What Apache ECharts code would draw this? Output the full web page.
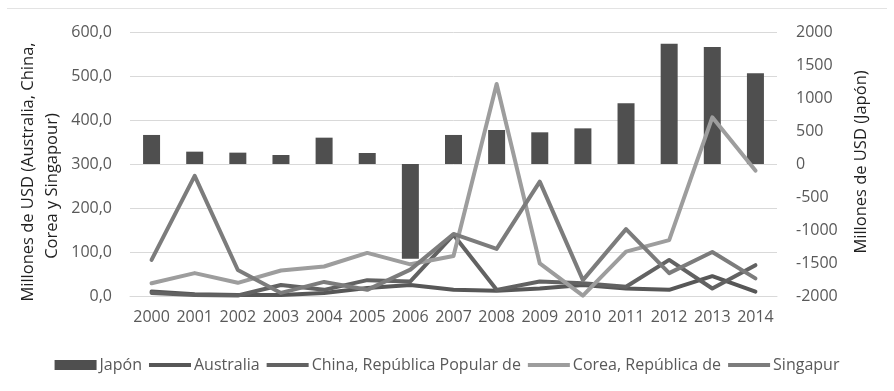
<!DOCTYPE html>
<html>
<head>
<meta charset="utf-8">
<script src="https://cdn.jsdelivr.net/npm/echarts@6/dist/echarts.min.js"></script>
<style>
  html, body { margin: 0; padding: 0; background: #ffffff; }
  #chart { width: 894px; height: 391px; }
</style>
</head>
<body>
<div id="chart"></div>
<script>
// Inversión extranjera directa por país de origen, 2000-2014
const years = ['2000','2001','2002','2003','2004','2005','2006','2007','2008','2009','2010','2011','2012','2013','2014'];

// Millones de USD (eje derecho)
const japon = [440, 187, 172, 136, 399, 167, -1435, 440, 515, 480, 540, 920, 1823, 1773, 1374];

// Millones de USD (eje izquierdo)
const australia = [10, 4, 2, 2, 7, 18, 25, 14, 12, 17, 25, 17, 14, 45, 10];
const china = [7, 2, 1, 25, 14, 36, 33, 139, 14, 33, 29, 21, 82, 17, 70];
const corea = [29, 52, 30, 58, 67, 98, 72, 91, 482, 74, 1, 101, 127, 406, 285];
const singapur = [82, 273, 59, 7, 32, 14, 60, 141, 107, 260, 36, 152, 52, 100, 40];

const leftTicks = { min: 0, max: 600, interval: 100 };
const rightTicks = { min: -2000, max: 2000, interval: 500 };

const FONT = '"Open Sans", sans-serif';
const LABEL = '#595959';
const LINE_ICON = 'path://M0,0H42V4H0Z';

const chart = echarts.init(document.getElementById('chart'), null, { renderer: 'canvas' });

function lineSeries(name, data, color) {
  return {
    name: name,
    type: 'line',
    yAxisIndex: 0,
    data: data,
    symbol: 'none',
    lineStyle: { color: color, width: 4, cap: 'round', join: 'round' },
    itemStyle: { color: color },
    z: 3
  };
}

chart.setOption({
  animation: false,
  backgroundColor: '#ffffff',
  grid: { left: 130, right: 117, top: 32, bottom: 95 },
  xAxis: {
    type: 'category',
    data: years,
    axisLine: { show: true, lineStyle: { color: '#d9d9d9', width: 1 } },
    axisTick: { show: false },
    axisLabel: { color: LABEL, fontFamily: FONT, fontSize: 16, margin: 13, interval: 0 }
  },
  yAxis: [
    {
      type: 'value',
      min: leftTicks.min, max: leftTicks.max, interval: leftTicks.interval,
      axisLine: { show: false },
      axisTick: { show: false },
      splitLine: { lineStyle: { color: '#d9d9d9', width: 1 } },
      axisLabel: {
        color: LABEL, fontFamily: FONT, fontSize: 16, margin: 18,
        formatter: v => v.toFixed(1).replace('.', ',')
      }
    },
    {
      type: 'value',
      min: rightTicks.min, max: rightTicks.max, interval: rightTicks.interval,
      axisLine: { show: false },
      axisTick: { show: false },
      splitLine: { show: false },
      axisLabel: {
        color: LABEL, fontFamily: FONT, fontSize: 16, margin: 19,
        formatter: v => String(v)
      }
    }
  ],
  legend: {
    top: 352,
    left: 'center',
    itemWidth: 42,
    itemHeight: 10,
    itemGap: 7,
    symbolKeepAspect: true,
    textStyle: { color: LABEL, fontFamily: FONT, fontSize: 16, padding: [0, 0, 0, -2] },
    data: [
      { name: 'Japón', icon: 'rect' },
      { name: 'Australia', icon: LINE_ICON },
      { name: 'China, República Popular de', icon: LINE_ICON },
      { name: 'Corea, República de', icon: LINE_ICON },
      { name: 'Singapur', icon: LINE_ICON }
    ]
  },
  series: [
    {
      name: 'Japón',
      type: 'bar',
      yAxisIndex: 1,
      data: japon,
      barWidth: 17,
      itemStyle: { color: '#4f4f4f' },
      z: 2
    },
    lineSeries('Australia', australia, '#575757'),
    lineSeries('China, República Popular de', china, '#626262'),
    lineSeries('Corea, República de', corea, '#9d9d9d'),
    lineSeries('Singapur', singapur, '#7c7c7c')
  ],
  graphic: [
    {
      type: 'line',
      shape: { x1: 7, y1: 8.5, x2: 887, y2: 8.5 },
      style: { stroke: '#e3e3e3', lineWidth: 1 },
      silent: true
    },
    {
      type: 'text',
      x: 28, y: 172,
      rotation: Math.PI / 2,
      style: {
        text: 'Millones de USD (Australia, China,',
        fill: '#1f1f1f', font: '16.5px "Open Sans", sans-serif',
        textAlign: 'center', textVerticalAlign: 'middle'
      }
    },
    {
      type: 'text',
      x: 52, y: 186,
      rotation: Math.PI / 2,
      style: {
        text: 'Corea y Singapour)',
        fill: '#1f1f1f', font: '16.5px "Open Sans", sans-serif',
        textAlign: 'center', textVerticalAlign: 'middle'
      }
    },
    {
      type: 'text',
      x: 861, y: 162,
      rotation: Math.PI / 2,
      style: {
        text: 'Millones de USD (Japón)',
        fill: '#1f1f1f', font: '16.5px "Open Sans", sans-serif',
        textAlign: 'center', textVerticalAlign: 'middle'
      }
    }
  ]
});
</script>
</body>
</html>
